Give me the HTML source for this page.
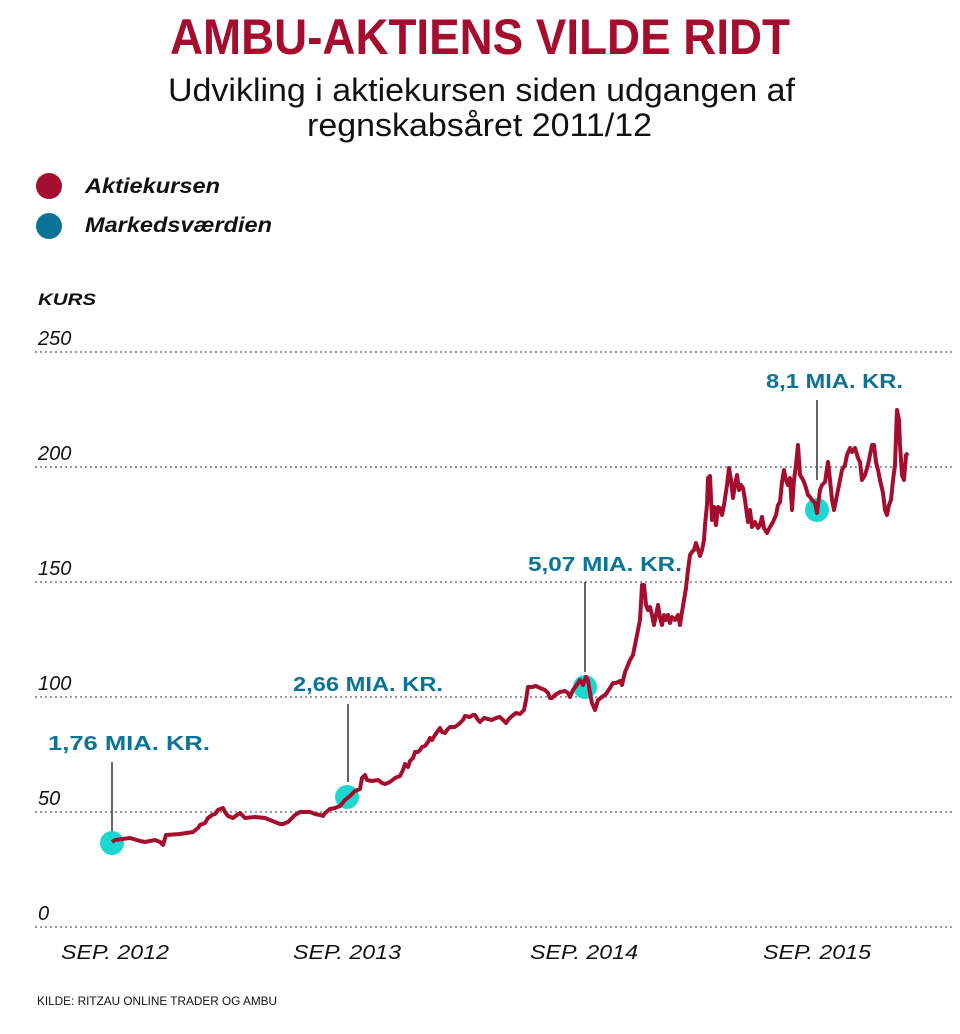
<!DOCTYPE html>
<html><head><meta charset="utf-8"><style>html,body{margin:0;padding:0;background:#fff}svg{display:block}</style></head>
<body>
<svg width="960" height="1034" viewBox="0 0 960 1034" xmlns="http://www.w3.org/2000/svg" font-family="Liberation Sans, sans-serif">
<text x="170" y="54" font-size="50" font-weight="bold" fill="#a50d2f" textLength="620" lengthAdjust="spacingAndGlyphs">AMBU-AKTIENS VILDE RIDT</text>
<text x="168" y="101" font-size="32" fill="#111" textLength="627" lengthAdjust="spacingAndGlyphs">Udvikling i aktiekursen siden udgangen af</text>
<text x="307" y="136" font-size="32" fill="#111" textLength="345" lengthAdjust="spacingAndGlyphs">regnskabsåret 2011/12</text>
<circle cx="49" cy="186" r="13" fill="#a50d2f"/>
<circle cx="49" cy="226" r="13" fill="#0a7396"/>
<text x="85" y="193" font-size="21" font-weight="bold" font-style="italic" fill="#111" textLength="135" lengthAdjust="spacingAndGlyphs">Aktiekursen</text>
<text x="85" y="232" font-size="21" font-weight="bold" font-style="italic" fill="#111" textLength="187" lengthAdjust="spacingAndGlyphs">Markedsværdien</text>
<text x="38" y="305" font-size="17" font-weight="bold" font-style="italic" fill="#111" textLength="58" lengthAdjust="spacingAndGlyphs">KURS</text>
<g stroke="#999" stroke-width="2" stroke-dasharray="2,3">
<line x1="35" y1="352" x2="952" y2="352"/><line x1="35" y1="467" x2="952" y2="467"/><line x1="35" y1="582" x2="952" y2="582"/><line x1="35" y1="697" x2="952" y2="697"/><line x1="35" y1="812" x2="952" y2="812"/><line x1="35" y1="927" x2="952" y2="927"/>
</g>
<g font-size="20" font-style="italic" fill="#111">
<text x="38" y="345">250</text><text x="38" y="460">200</text><text x="38" y="575">150</text><text x="38" y="690">100</text><text x="38" y="805">50</text><text x="38" y="920">0</text>
<text x="61" y="959" textLength="108" lengthAdjust="spacingAndGlyphs">SEP. 2012</text>
<text x="293" y="959" textLength="108" lengthAdjust="spacingAndGlyphs">SEP. 2013</text>
<text x="530" y="959" textLength="108" lengthAdjust="spacingAndGlyphs">SEP. 2014</text>
<text x="763" y="959" textLength="108" lengthAdjust="spacingAndGlyphs">SEP. 2015</text>
</g>
<text x="37" y="1005" font-size="12" fill="#111" textLength="240" lengthAdjust="spacingAndGlyphs">KILDE: RITZAU ONLINE TRADER OG AMBU</text>
<g stroke="#333" stroke-width="1.5">
<line x1="112" y1="762" x2="112" y2="842"/><line x1="348" y1="704" x2="348" y2="782"/><line x1="585" y1="582" x2="585" y2="672"/><line x1="817" y1="400" x2="817" y2="480"/>
</g>
<g fill="#1bd7cf">
<circle cx="112" cy="843" r="12"/><circle cx="347" cy="797" r="12"/><circle cx="585" cy="687" r="12"/><circle cx="817" cy="510" r="12"/>
</g>
<g font-size="20" font-weight="bold" fill="#0a7396">
<text x="48" y="750" textLength="162" lengthAdjust="spacingAndGlyphs">1,76 MIA. KR.</text>
<text x="293" y="691" textLength="150" lengthAdjust="spacingAndGlyphs">2,66 MIA. KR.</text>
<text x="528" y="571" textLength="154" lengthAdjust="spacingAndGlyphs">5,07 MIA. KR.</text>
<text x="766" y="388" textLength="137" lengthAdjust="spacingAndGlyphs">8,1 MIA. KR.</text>
</g>
<polyline fill="none" stroke="#a50d2f" stroke-width="4" stroke-linejoin="round" points="112,842 115,840 130,838 140,841 145,842 155,840 160,842 163,845 166,835 180,834 193,832 198,828 200,825 205,823 208,818 212,815 215,814 218,810 223,808 225,812 228,816 233,818 237,815 240,813 245,818 255,817 265,818 270,820 275,822 280,824 283,824 288,822 290,820 295,815 300,812 305,812 310,812 315,814 320,815 323,816 325,813 330,809 335,808 340,806 345,800 350,796 355,791 360,789 362,778 365,775 367,780 372,781 378,780 382,783 385,784 390,782 395,778 400,776 403,770 405,764 408,767 410,761 413,758 415,752 418,752 420,750 422,747 425,746 428,742 430,738 432,740 435,735 440,728 442,732 445,733 447,730 450,727 455,727 460,723 463,720 465,716 470,717 473,715 475,715 478,720 480,722 484,718 488,719 492,720 496,718 500,717 503,720 506,723 508,720 512,716 516,713 520,714 522,712 524,710 526,700 528,687 532,687 536,686 540,688 545,690 548,693 550,698 552,698 555,695 560,692 565,691 568,693 570,697 573,690 576,686 580,680 583,685 586,677 588,680 590,693 592,703 595,710 598,700 602,697 606,694 610,688 613,683 616,683 620,681 622,685 625,672 628,665 630,660 633,655 635,645 637,635 640,620 642,585 644,585 646,605 648,610 650,607 652,615 654,625 656,615 658,605 660,618 662,625 664,615 666,620 668,615 670,623 672,617 675,620 678,615 680,625 682,612 684,600 686,588 688,570 690,555 692,552 694,550 696,543 700,556 702,550 704,540 705,525 707,505 708,478 710,476 712,520 714,507 716,525 718,507 720,508 722,515 724,505 727,485 729,468 731,480 733,498 735,485 737,475 739,490 741,485 743,488 745,500 747,515 748,522 750,510 752,527 755,522 758,528 760,525 762,517 764,528 767,533 770,527 773,522 776,515 778,505 780,502 782,482 784,470 786,480 788,485 790,478 792,510 794,480 796,465 798,445 800,475 802,478 804,482 806,488 808,495 810,497 812,500 815,503 817,513 820,490 822,485 825,482 828,462 830,480 832,500 834,510 837,495 840,480 842,470 845,465 847,455 850,448 852,452 855,448 858,458 860,462 862,480 865,475 868,465 872,445 874,445 876,462 878,470 880,480 883,493 885,510 887,515 889,505 891,500 893,480 895,465 897,410 899,420 900,445 902,475 904,480 906,455 908,453"/>
</svg>
</body></html>
